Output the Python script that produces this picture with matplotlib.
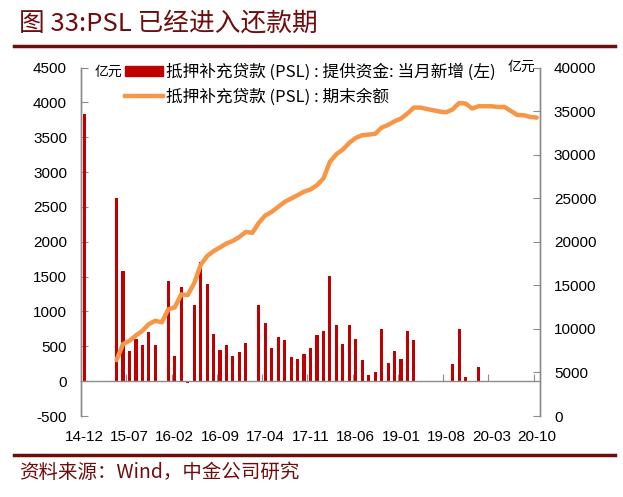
import numpy as np
import matplotlib
matplotlib.use("Agg")
import matplotlib.pyplot as plt
from matplotlib.lines import Line2D

plt.rcParams['font.family'] = ['Liberation Sans', 'Noto Sans CJK SC', 'DejaVu Sans']
plt.rcParams['axes.unicode_minus'] = False
CJK = ['Noto Sans CJK SC', 'DejaVu Sans']

# months 14-12 .. 20-10
months = ["14-12", "15-01", "15-02", "15-03", "15-04", "15-05", "15-06", "15-07", "15-08", "15-09",
          "15-10", "15-11", "15-12", "16-01", "16-02", "16-03", "16-04", "16-05", "16-06", "16-07",
          "16-08", "16-09", "16-10", "16-11", "16-12", "17-01", "17-02", "17-03", "17-04", "17-05",
          "17-06", "17-07", "17-08", "17-09", "17-10", "17-11", "17-12", "18-01", "18-02", "18-03",
          "18-04", "18-05", "18-06", "18-07", "18-08", "18-09", "18-10", "18-11", "18-12", "19-01",
          "19-02", "19-03", "19-04", "19-05", "19-06", "19-07", "19-08", "19-09", "19-10", "19-11",
          "19-12", "20-01", "20-02", "20-03", "20-04", "20-05", "20-06", "20-07", "20-08", "20-09",
          "20-10"]

# PSL new supply in month (亿元, left axis)
psl_new = [3831, 0, 0, 0, 0, 2622, 1576, 430, 602, 520,
           706, 520, 0, 1437, 358, 1347, -30, 1089, 1713, 1398,
           682, 453, 516, 358, 420, 544, 0, 1089, 840, 477,
           635, 587, 348, 324, 387, 473, 659, 725, 1509, 811,
           534, 802, 606, 305, 90, 129, 745, 258, 434, 315,
           721, 587, 0, 0, 0, 0, 0, 248, 754, 62,
           0, 200, 0, 0, 0, 0, 0, 0, 0, 0,
           0]

# PSL balance at month end (亿元, right axis)
psl_bal = [np.nan, np.nan, np.nan, np.nan, np.nan, 6420, 8260, 8640, 9250, 9780,
           10550, 10930, 10750, 12240, 12470, 13950, 13880, 15220, 17320, 18350,
           18920, 19350, 19800, 20100, 20560, 21130, 21020, 22170, 23010, 23430,
           24000, 24570, 24960, 25340, 25750, 26000, 26490, 27260, 29170, 30050,
           30580, 31350, 31920, 32230, 32300, 32380, 33100, 33410, 33830, 34140,
           34720, 35400, 35400, 35240, 35090, 34940, 34860, 35200, 35930, 35860,
           35290, 35550, 35550, 35550, 35470, 35470, 35010, 34550, 34520, 34320,
           34250]

label_bar = "抵押补充贷款 (PSL) : 提供资金: 当月新增 (左)"
label_line = "抵押补充贷款 (PSL) : 期末余额"

RED = "#C00000"
ORANGE = "#F79646"
MAROON = "#6F0D0D"
GRAY = "#8C8C8C"

fig = plt.figure(figsize=(6.23, 4.97), dpi=100)
ax = fig.add_axes([81/623, 1-416/497, (540-81)/623, (416-67.5)/497])
ax2 = ax.twinx()

x = np.arange(len(months))
ax.bar(x, psl_new, width=0.48, color=RED, zorder=2)
ax2.plot(x, psl_bal, color=ORANGE, lw=3.2, solid_capstyle='round', zorder=3)

ax.set_xlim(-0.5, len(months) - 0.5)
ax.set_ylim(-500, 4500)
ax.set_yticks(np.arange(-500, 4501, 500))
ax2.set_ylim(0, 40000)
ax2.set_yticks(np.arange(0, 40001, 5000))

# x axis drawn at zero, labels below the plot
ax.spines['bottom'].set_position(('data', 0))
ax.set_xticks(np.arange(6.5, len(months), 7))
ax.set_xticks(np.arange(0, len(months), 7), minor=True)
ax.set_xticklabels([])
ax.set_xticklabels([months[i] for i in range(0, len(months), 7)], minor=True)
ax.tick_params(axis='x', which='major', direction='in', length=5, color=GRAY)
ax.tick_params(axis='x', which='minor', length=0, pad=35, labelsize=11)

ax.tick_params(axis='y', direction='in', length=5, color=GRAY, labelsize=11, pad=10)
ax2.tick_params(axis='y', direction='in', length=5, color=GRAY, labelsize=11, pad=10)

for a in (ax, ax2):
    a.spines['top'].set_visible(False)
    for s in a.spines.values():
        s.set_color(GRAY)
        s.set_linewidth(1.0)
ax2.spines['bottom'].set_visible(False)

handles = [plt.Rectangle((0, 0), 1, 1, color=RED),
           Line2D([0], [0], color=ORANGE, lw=3.2)]
leg = ax2.legend(handles, [label_bar, label_line], loc='upper left',
                 bbox_to_anchor=(0.095, 1.012), frameon=False,
                 prop={'family': CJK, 'size': 12}, handlelength=2.3,
                 handleheight=0.55, handletextpad=0.2, labelspacing=0.45,
                 borderaxespad=0, borderpad=0)

fig.text(95/623, 1-72/497, "亿元", family=CJK, fontsize=10, va='center', ha='left')
fig.text(508/623, 1-67/497, "亿元", family=CJK, fontsize=10, va='center', ha='left')

fig.text(19/623, 1-24/497, "图 33:PSL 已经进入还款期", family=CJK, fontsize=18.5,
         color=MAROON, style='italic', va='center', ha='left')
fig.add_artist(Line2D([14/623, 615/623], [1-46/497, 1-46/497], color=MAROON, lw=2.5))
fig.add_artist(Line2D([14/623, 615/623], [1-455/497, 1-455/497], color=MAROON, lw=2.5))
fig.text(19/623, 1-472/497, "资料来源：Wind，中金公司研究", family=CJK, fontsize=14,
         color=MAROON, style='italic', va='center', ha='left')

fig.savefig("out.png", dpi=100)
